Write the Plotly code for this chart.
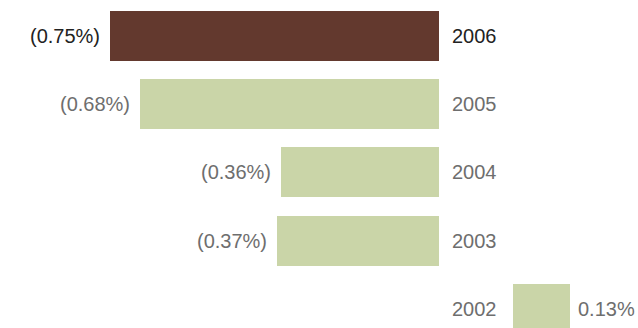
import plotly.graph_objects as go

# Annual change by year (percent); negatives are shown in parentheses
years = ["2006", "2005", "2004", "2003", "2002"]
values = [-0.75, -0.68, -0.36, -0.37, 0.13]
highlight_year = "2006"

BROWN = "#63392E"
GREEN = "#CAD5A8"
DARK_TEXT = "#222222"
GREY_TEXT = "#6E6E6E"
FONT = "Liberation Sans, Arial, Helvetica, sans-serif"

W, H = 638, 328
PX_PER_PCT = 439.0          # horizontal scale shared by both sides
NEG_RIGHT = 439             # pixel where the negative side ends (zero)
POS_LEFT = 513              # pixel where the positive side starts (zero)
LABEL_X = 450               # year labels column

def bar_color(y):
    return BROWN if y == highlight_year else GREEN

def text_color(y):
    return DARK_TEXT if y == highlight_year else GREY_TEXT

def fmt(v):
    s = f"{abs(v):.2f}%"
    return f"({s})" if v < 0 else s

neg = [(y, v) for y, v in zip(years, values) if v < 0]
pos = [(y, v) for y, v in zip(years, values) if v >= 0]

fig = go.Figure()
fig.add_trace(go.Bar(
    y=[y for y, _ in neg], x=[v for _, v in neg], orientation="h",
    marker=dict(color=[bar_color(y) for y, _ in neg], line=dict(width=0)),
    width=0.732, xaxis="x", yaxis="y", hoverinfo="skip", showlegend=False,
))
fig.add_trace(go.Bar(
    y=[y for y, _ in pos], x=[v for _, v in pos], orientation="h",
    marker=dict(color=[bar_color(y) for y, _ in pos], line=dict(width=0)),
    width=0.732, xaxis="x2", yaxis="y", hoverinfo="skip", showlegend=False,
))

# Annotations on a category axis are placed by category index
annotations = []
for idx, (y, v) in enumerate(zip(years, values)):
    font = dict(family=FONT, size=20, color=text_color(y))
    annotations.append(dict(
        text=y, xref="paper", x=LABEL_X / W, xanchor="left",
        yref="y", y=idx, yanchor="middle", showarrow=False, font=font,
    ))
    if v < 0:
        annotations.append(dict(
            text=fmt(v), xref="x", x=v, xanchor="right", xshift=-8,
            yref="y", y=idx, yanchor="middle", showarrow=False, font=font,
        ))
    else:
        annotations.append(dict(
            text=fmt(v), xref="x2", x=v, xanchor="left", xshift=6,
            yref="y", y=idx, yanchor="middle", showarrow=False, font=font,
        ))

hidden = dict(showgrid=False, zeroline=False, showticklabels=False,
              showline=False, ticks="", fixedrange=True)

fig.update_layout(
    width=W, height=H,
    margin=dict(l=0, r=0, t=0, b=0),
    paper_bgcolor="white", plot_bgcolor="white",
    xaxis=dict(domain=[0, NEG_RIGHT / W],
               range=[-NEG_RIGHT / PX_PER_PCT, 0], **hidden),
    xaxis2=dict(domain=[POS_LEFT / W, 1],
                range=[0, (W - POS_LEFT) / PX_PER_PCT], **hidden),
    yaxis=dict(type="category", categoryorder="array", categoryarray=years,
               range=[4.278, -0.524], **hidden),
    annotations=annotations,
    bargap=0,
)

fig.write_html("out.html")
